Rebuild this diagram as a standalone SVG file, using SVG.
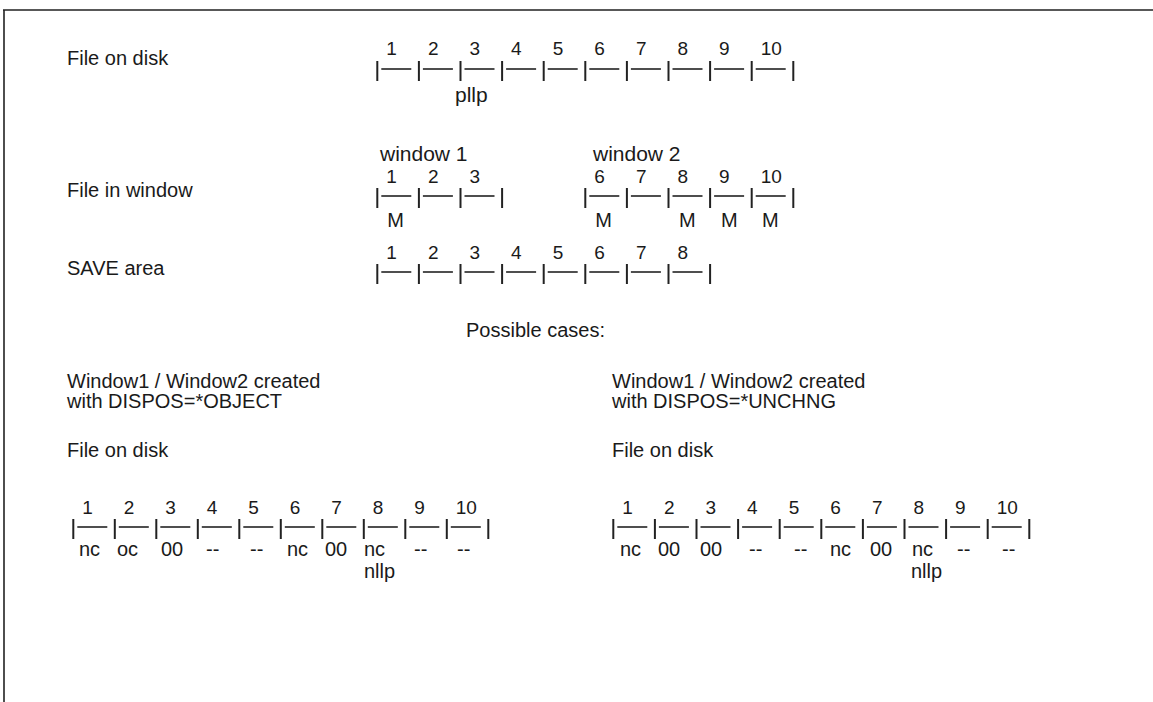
<svg xmlns="http://www.w3.org/2000/svg" xmlns:xlink="http://www.w3.org/1999/xlink" width="1153" height="702" viewBox="0 0 1153 702">
<style>
  text { font-family: "Liberation Sans", Arial, sans-serif; fill: #1a1a1a; }
  .lbl { font-size: 20px; }
  .big { font-size: 21px; }
  .num { font-size: 19px; }
  .m { font-size: 20px; }
  .ln { stroke: #222; fill: none; }
  .bar { stroke-width: 2; }
  .dash { stroke-width: 1.6; }
  .frame { stroke: #222; stroke-width: 1.6; fill: none; }
</style>
<defs>
  <g id="cell" class="ln"><line class="bar" x1="0" y1="0" x2="0" y2="20"/><line class="dash" x1="4" y1="8" x2="34" y2="8"/></g>
  <g id="endbar" class="ln"><line class="bar" x1="0" y1="0" x2="0" y2="20"/></g>
</defs>
<rect width="1153" height="702" fill="#fff"/>
<path class="frame" d="M3 10 H1153 M4 10 V702"/>

<g id="disk-top">
  <text class="lbl" x="67" y="65">File on disk</text>
  <g>
    <use xlink:href="#cell" x="377.3" y="61"/><use xlink:href="#cell" x="418.9" y="61"/><use xlink:href="#cell" x="460.5" y="61"/><use xlink:href="#cell" x="502.1" y="61"/><use xlink:href="#cell" x="543.7" y="61"/><use xlink:href="#cell" x="585.3" y="61"/><use xlink:href="#cell" x="626.9" y="61"/><use xlink:href="#cell" x="668.5" y="61"/><use xlink:href="#cell" x="710.1" y="61"/><use xlink:href="#cell" x="751.7" y="61"/><use xlink:href="#endbar" x="793.3" y="61"/>
  </g>
  <text class="num" y="55"><tspan x="386.3">1</tspan><tspan x="427.9">2</tspan><tspan x="469.5">3</tspan><tspan x="511.1">4</tspan><tspan x="552.7">5</tspan><tspan x="594.3">6</tspan><tspan x="635.9">7</tspan><tspan x="677.5">8</tspan><tspan x="719.1">9</tspan><tspan x="760.7">10</tspan></text>
  <text class="big" x="455" y="102">pllp</text>
</g>

<g id="window">
  <text class="lbl" x="67" y="197">File in window</text>
  <text class="big" x="380" y="161">window 1</text>
  <text class="big" x="593" y="161">window 2</text>
  <g>
    <use xlink:href="#cell" x="377.3" y="188"/><use xlink:href="#cell" x="418.9" y="188"/><use xlink:href="#cell" x="460.5" y="188"/><use xlink:href="#endbar" x="502.1" y="188"/>
    <use xlink:href="#cell" x="585.3" y="188"/><use xlink:href="#cell" x="626.9" y="188"/><use xlink:href="#cell" x="668.5" y="188"/><use xlink:href="#cell" x="710.1" y="188"/><use xlink:href="#cell" x="751.7" y="188"/><use xlink:href="#endbar" x="793.3" y="188"/>
  </g>
  <text class="num" y="183"><tspan x="386.3">1</tspan><tspan x="427.9">2</tspan><tspan x="469.5">3</tspan><tspan x="594.3">6</tspan><tspan x="635.9">7</tspan><tspan x="677.5">8</tspan><tspan x="719.1">9</tspan><tspan x="760.7">10</tspan></text>
  <text class="m" y="227"><tspan x="387.3">M</tspan><tspan x="595.3">M</tspan><tspan x="679">M</tspan><tspan x="721">M</tspan><tspan x="762">M</tspan></text>
</g>

<g id="save">
  <text class="lbl" x="67" y="275">SAVE area</text>
  <g>
    <use xlink:href="#cell" x="377.3" y="264"/><use xlink:href="#cell" x="418.9" y="264"/><use xlink:href="#cell" x="460.5" y="264"/><use xlink:href="#cell" x="502.1" y="264"/><use xlink:href="#cell" x="543.7" y="264"/><use xlink:href="#cell" x="585.3" y="264"/><use xlink:href="#cell" x="626.9" y="264"/><use xlink:href="#cell" x="668.5" y="264"/><use xlink:href="#endbar" x="710.1" y="264"/>
  </g>
  <text class="num" y="259"><tspan x="386.3">1</tspan><tspan x="427.9">2</tspan><tspan x="469.5">3</tspan><tspan x="511.1">4</tspan><tspan x="552.7">5</tspan><tspan x="594.3">6</tspan><tspan x="635.9">7</tspan><tspan x="677.5">8</tspan></text>
</g>

<text id="cases" class="lbl" x="466" y="337">Possible cases:</text>

<g id="case-object">
  <text class="lbl" x="67" y="388">Window1 / Window2 created</text>
  <text class="lbl" x="67" y="408">with DISPOS=*OBJECT</text>
  <text class="lbl" x="67" y="457">File on disk</text>
  <g>
    <use xlink:href="#cell" x="73.3" y="519"/><use xlink:href="#cell" x="114.8" y="519"/><use xlink:href="#cell" x="156.3" y="519"/><use xlink:href="#cell" x="197.8" y="519"/><use xlink:href="#cell" x="239.3" y="519"/><use xlink:href="#cell" x="280.8" y="519"/><use xlink:href="#cell" x="322.3" y="519"/><use xlink:href="#cell" x="363.8" y="519"/><use xlink:href="#cell" x="405.3" y="519"/><use xlink:href="#cell" x="446.8" y="519"/><use xlink:href="#endbar" x="488.3" y="519"/>
  </g>
  <text class="num" y="514"><tspan x="82.3">1</tspan><tspan x="123.8">2</tspan><tspan x="165.3">3</tspan><tspan x="206.8">4</tspan><tspan x="248.3">5</tspan><tspan x="289.8">6</tspan><tspan x="331.3">7</tspan><tspan x="372.8">8</tspan><tspan x="414.3">9</tspan><tspan x="455.8">10</tspan></text>
  <text class="lbl" y="556"><tspan x="79">nc</tspan><tspan x="117">oc</tspan><tspan x="161">00</tspan><tspan x="206">--</tspan><tspan x="250">--</tspan><tspan x="287">nc</tspan><tspan x="325">00</tspan><tspan x="364">nc</tspan><tspan x="414">--</tspan><tspan x="457">--</tspan></text>
  <text class="lbl" x="364" y="578">nllp</text>
</g>

<g id="case-unchng">
  <text class="lbl" x="612" y="388">Window1 / Window2 created</text>
  <text class="lbl" x="612" y="408">with DISPOS=*UNCHNG</text>
  <text class="lbl" x="612" y="457">File on disk</text>
  <g>
    <use xlink:href="#cell" x="613.3" y="519"/><use xlink:href="#cell" x="654.9" y="519"/><use xlink:href="#cell" x="696.5" y="519"/><use xlink:href="#cell" x="738.1" y="519"/><use xlink:href="#cell" x="779.7" y="519"/><use xlink:href="#cell" x="821.3" y="519"/><use xlink:href="#cell" x="862.9" y="519"/><use xlink:href="#cell" x="904.5" y="519"/><use xlink:href="#cell" x="946.1" y="519"/><use xlink:href="#cell" x="987.7" y="519"/><use xlink:href="#endbar" x="1029.3" y="519"/>
  </g>
  <text class="num" y="514"><tspan x="622.3">1</tspan><tspan x="663.9">2</tspan><tspan x="705.5">3</tspan><tspan x="747.1">4</tspan><tspan x="788.7">5</tspan><tspan x="830.3">6</tspan><tspan x="871.9">7</tspan><tspan x="913.5">8</tspan><tspan x="955.1">9</tspan><tspan x="996.7">10</tspan></text>
  <text class="lbl" y="556"><tspan x="620">nc</tspan><tspan x="658">00</tspan><tspan x="700">00</tspan><tspan x="749">--</tspan><tspan x="794">--</tspan><tspan x="830">nc</tspan><tspan x="870">00</tspan><tspan x="912">nc</tspan><tspan x="957">--</tspan><tspan x="1002">--</tspan></text>
  <text class="lbl" x="911" y="578">nllp</text>
</g>
</svg>
